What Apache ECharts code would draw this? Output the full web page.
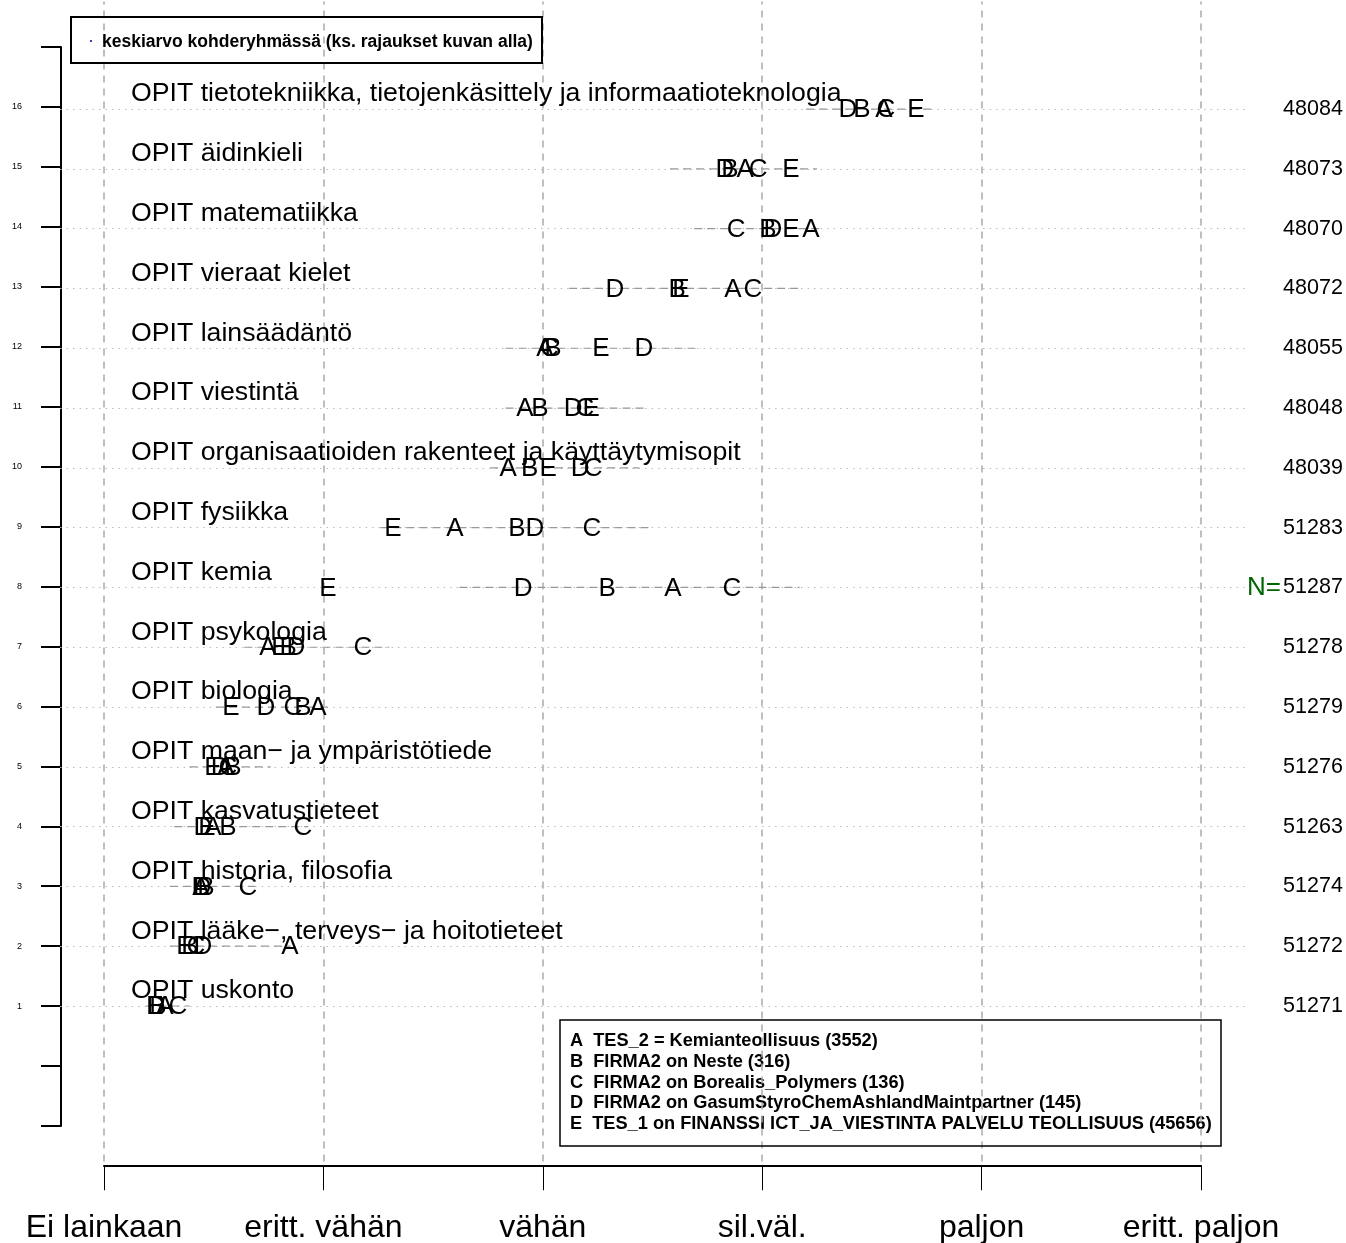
<!DOCTYPE html>
<html>
<head>
<meta charset="utf-8">
<script src="https://cdn.jsdelivr.net/npm/echarts@6/dist/echarts.min.js"></script>
<style>
html,body{margin:0;padding:0;background:#fff;}
#chart{width:1346px;height:1243px;}
</style>
</head>
<body>
<div id="chart"></div>
<script>
// ---- data (rows bottom to top: 1..16) ----
const rows = [1,2,3,4,5,6,7,8,9,10,11,12,13,14,15,16];
const categories = [
  "OPIT uskonto",
  "OPIT lääke−, terveys− ja hoitotieteet",
  "OPIT historia, filosofia",
  "OPIT kasvatustieteet",
  "OPIT maan− ja ympäristötiede",
  "OPIT biologia",
  "OPIT psykologia",
  "OPIT kemia",
  "OPIT fysiikka",
  "OPIT organisaatioiden rakenteet ja käyttäytymisopit",
  "OPIT viestintä",
  "OPIT lainsäädäntö",
  "OPIT vieraat kielet",
  "OPIT matematiikka",
  "OPIT äidinkieli",
  "OPIT tietotekniikka, tietojenkäsittely ja informaatioteknologia"
];
const groupA = [1.278, 1.848, 1.442, 1.497, 1.556, 1.975, 1.747, 3.593, 2.600, 2.842, 2.919, 3.010, 3.867, 4.222, 3.922, 4.555];
const groupB = [1.246, 1.392, 1.465, 1.565, 1.588, 1.907, 1.839, 3.293, 2.882, 2.940, 2.987, 3.046, 3.612, 4.026, 3.853, 4.455];
const groupC = [1.337, 1.419, 1.656, 1.907, 1.565, 1.861, 2.180, 3.862, 3.224, 3.229, 3.192, 3.030, 3.958, 3.881, 3.981, 4.564];
const groupD = [1.237, 1.451, 1.447, 1.451, 1.529, 1.738, 1.875, 2.910, 2.964, 3.170, 3.138, 3.461, 3.329, 4.049, 3.830, 4.391];
const groupE = [1.232, 1.369, 1.438, 1.469, 1.497, 1.579, 1.802, 2.021, 2.317, 3.024, 3.220, 3.265, 3.630, 4.131, 4.131, 4.701];
const rangeLow  = [1.19, 1.30, 1.30, 1.32, 1.39, 1.51, 1.64, 2.62, 2.26, 2.76, 2.83, 2.83, 3.12, 3.69, 3.58, 4.20];
const rangeHigh = [1.39, 1.85, 1.69, 1.93, 1.76, 2.03, 2.30, 4.17, 3.49, 3.44, 3.47, 3.72, 4.17, 4.26, 4.25, 4.77];
const nValues = [51271, 51272, 51274, 51263, 51276, 51279, 51278, 51287, 51283, 48039, 48048, 48055, 48072, 48070, 48073, 48084];
const scaleValues = [1,2,3,4,5,6];
const scaleLabels = ["Ei lainkaan","eritt. vähän","vähän","sil.väl.","paljon","eritt. paljon"];
const groupLetters = ["A","B","C","D","E"];
const groupNames = [
  "TES_2 = Kemianteollisuus (3552)",
  "FIRMA2 on Neste (316)",
  "FIRMA2 on Borealis_Polymers (136)",
  "FIRMA2 on GasumStyroChemAshlandMaintpartner (145)",
  "TES_1 on FINANSSI ICT_JA_VIESTINTA PALVELU TEOLLISUUS (45656)"
];
const meanLegendText = "keskiarvo kohderyhmässä (ks. rajaukset kuvan alla)";

// ---- chart ----
const FONT = "'Liberation Sans', Arial, Helvetica, sans-serif";
const chart = echarts.init(document.getElementById('chart'), null, {renderer:'canvas'});
const groups = [groupA, groupB, groupC, groupD, groupE];

function letterSeries(letter, vals) {
  return {
    type: 'custom', xAxisIndex: 0, yAxisIndex: 0, z: 10, silent: true,
    data: rows.map((r, i) => [vals[i], r]),
    encode: {x: 0, y: 1},
    renderItem: function (params, api) {
      const p = api.coord([api.value(0), api.value(1)]);
      return {type: 'text', style: {text: letter, x: p[0], y: p[1] + 1, align: 'center', verticalAlign: 'middle', font: '26px ' + FONT, fill: '#000'}};
    }
  };
}

const series = [
  {
    type: 'scatter', xAxisIndex: 0, yAxisIndex: 0, data: [], silent: true,
    markLine: {
      silent: true, symbol: 'none', label: {show: false}, animation: false,
      data: scaleValues.map(v => ({xAxis: v, lineStyle: {color: '#aaaaaa', type: [7, 6], width: 1.5}}))
        .concat(rows.map(r => ({yAxis: r, lineStyle: {color: '#bbbbbb', type: [1.5, 5], width: 1}})))
    }
  },
  {
    type: 'custom', xAxisIndex: 0, yAxisIndex: 0, z: 5, silent: true,
    data: rows.map((r, i) => [rangeLow[i], rangeHigh[i], r]),
    encode: {x: [0, 1], y: 2},
    renderItem: function (params, api) {
      const a = api.coord([api.value(0), api.value(2)]);
      const b = api.coord([api.value(1), api.value(2)]);
      return {type: 'line', shape: {x1: a[0], y1: a[1], x2: b[0], y2: b[1]}, style: {stroke: '#999999', lineWidth: 1.2, lineDash: [8, 5]}};
    }
  },
  {
    type: 'custom', xAxisIndex: 0, yAxisIndex: 0, z: 8, silent: true,
    data: rows.map((r, i) => [1, r, i]),
    encode: {x: 0, y: 1},
    renderItem: function (params, api) {
      const p = api.coord([api.value(0), api.value(1)]);
      return {type: 'text', style: {text: categories[api.value(2)], x: p[0] + 27, y: p[1] - 15, align: 'left', verticalAlign: 'middle', font: '26.7px ' + FONT, fill: '#000'}};
    }
  },
  {
    type: 'custom', xAxisIndex: 0, yAxisIndex: 0, z: 8, silent: true,
    data: rows.map((r, i) => [6.2, r, i]),
    encode: {x: 0, y: 1},
    renderItem: function (params, api) {
      const p = api.coord([api.value(0), api.value(1)]);
      const i = api.value(2);
      const children = [{type: 'text', style: {text: String(nValues[i]), x: p[0] + 98, y: p[1], align: 'right', verticalAlign: 'middle', font: '21.5px ' + FONT, fill: '#000'}}];
      if (i === 7) {
        children.push({type: 'text', style: {text: 'N=', x: p[0] + 36, y: p[1], align: 'right', verticalAlign: 'middle', font: '26px ' + FONT, fill: '#006400'}});
      }
      return {type: 'group', children: children};
    }
  }
].concat(groupLetters.map((l, k) => letterSeries(l, groups[k])));

const option = {
  backgroundColor: '#ffffff',
  animation: false,
  tooltip: {show: false},
  grid: [
    {left: 60.1, right: 101.1, top: 1.4, height: 1160.1},
    {left: 104, width: 1097, top: 1165, height: 1},
    {left: 61, width: 1, top: 47, height: 1079}
  ],
  xAxis: [
    {gridIndex: 0, type: 'value', min: 0.8, max: 6.2, show: false},
    {gridIndex: 1, type: 'value', min: 1, max: 6, interval: 1,
      axisLine: {show: true, onZero: false, lineStyle: {color: '#000', width: 2}},
      axisTick: {show: true, length: 25, lineStyle: {color: '#000', width: 1}},
      splitLine: {show: false},
      axisLabel: {show: true, margin: 47, fontSize: 32, fontFamily: FONT, color: '#000',
        formatter: v => scaleLabels[scaleValues.indexOf(v)] || ''}},
    {gridIndex: 2, type: 'value', min: 0, max: 1, show: false}
  ],
  yAxis: [
    {gridIndex: 0, type: 'value', min: -1.6, max: 17.8, show: false},
    {gridIndex: 1, type: 'value', min: 0, max: 1, show: false},
    {gridIndex: 2, type: 'value', min: -1, max: 17, interval: 1, position: 'left',
      axisLine: {show: true, onZero: false, lineStyle: {color: '#000', width: 2}},
      axisTick: {show: true, length: 20, lineStyle: {color: '#000', width: 2}},
      splitLine: {show: false},
      axisLabel: {show: true, margin: 39, fontSize: 9, fontFamily: FONT, color: '#000',
        formatter: v => (rows.indexOf(v) >= 0 ? String(v) : '')}}
  ],
  graphic: [
    {type: 'rect', z: 20, silent: true, shape: {x: 71, y: 17, width: 471, height: 46}, style: {fill: 'none', stroke: '#000', lineWidth: 2}},
    {type: 'circle', z: 21, silent: true, shape: {cx: 91, cy: 41, r: 1}, style: {fill: '#00008b'}},
    {type: 'text', z: 21, silent: true, style: {text: meanLegendText, x: 102, y: 42, align: 'left', verticalAlign: 'middle', font: 'bold 17.5px ' + FONT, fill: '#000'}},
    {type: 'rect', z: 20, silent: true, shape: {x: 560, y: 1020, width: 661, height: 126}, style: {fill: 'none', stroke: '#000', lineWidth: 1.5}},
    {type: 'group', z: 21, silent: true, children: groupLetters.map((l, k) => ({
      type: 'text', style: {text: l + '  ' + groupNames[k], x: 570, y: 1041 + k * 20.8, align: 'left', verticalAlign: 'middle', font: 'bold 18.2px ' + FONT, fill: '#000'}
    }))}
  ],
  series: series
};
chart.setOption(option);
</script>
</body>
</html>
